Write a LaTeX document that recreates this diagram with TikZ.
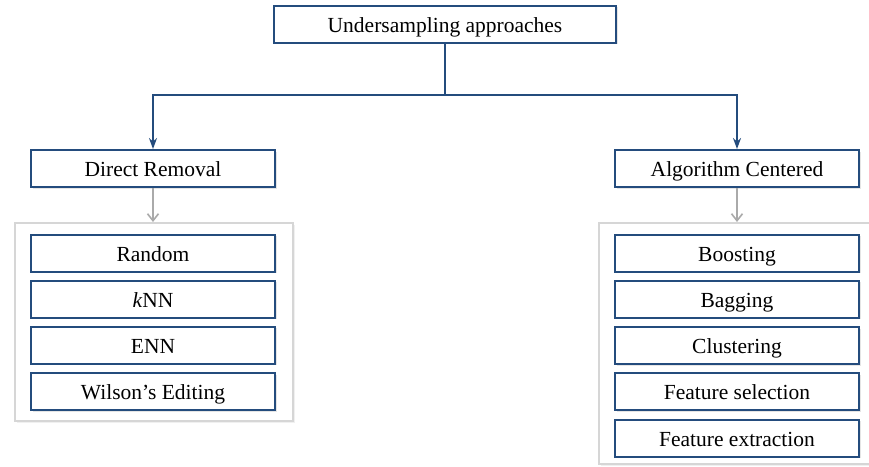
\documentclass[tikz,border=0pt]{standalone}
\usepackage{fontspec}
\setmainfont{Liberation Serif}
\usetikzlibrary{arrows.meta,shadows}
\definecolor{boxblue}{RGB}{36,76,125}
\definecolor{arrgray}{RGB}{170,170,170}
\definecolor{contgray}{RGB}{214,214,214}
\tikzset{
  itembox/.style={draw=boxblue, line width=2pt, fill=white, minimum width=244pt, minimum height=37pt,
    inner sep=0pt, text height=20pt, text depth=4pt, font=\fontsize{21.5}{24}\selectfont,
    drop shadow={shadow xshift=1.5pt, shadow yshift=-1.5pt, opacity=0.25, fill=black!40}},
  contbox/.style={draw=contgray, line width=2.2pt, fill=white,
    drop shadow={shadow xshift=1.5pt, shadow yshift=-1.5pt, opacity=0.2, fill=black!30}},
  bluearr/.style={draw=boxblue, line width=1.8pt, -{Stealth[length=11pt,width=8pt]}},
  grayarr/.style={draw=arrgray, line width=1.6pt, -{Straight Barb[length=7pt,width=11pt]}},
  blueline/.style={draw=boxblue, line width=1.8pt}
}
\begin{document}
\begin{tikzpicture}[x=1pt,y=-1pt]
\useasboundingbox (0,0) rectangle (869,466);
% containers
\node[contbox, minimum width=278pt, minimum height=198pt, inner sep=0pt, anchor=north west] (lc) at (14,222) {};
\node[contbox, minimum width=290pt, minimum height=241pt, inner sep=0pt, anchor=north west] (rc) at (598,222) {};
% top
\node[itembox, minimum width=342pt] (top) at (445,24) {Undersampling approaches};
\node[itembox] (dr) at (153,168.5) {Direct Removal};
\node[itembox] (ac) at (737,168.5) {Algorithm Centered};
% left items
\node[itembox] (l1) at (153,253) {Random};
\node[itembox] (l2) at (153,299) {\textit{k}NN};
\node[itembox] (l3) at (153,345) {ENN};
\node[itembox] (l4) at (153,391.5) {Wilson’s Editing};
% right items
\node[itembox] (r1) at (737,253) {Boosting};
\node[itembox] (r2) at (737,299) {Bagging};
\node[itembox] (r3) at (737,345.5) {Clustering};
\node[itembox] (r4) at (737,391.5) {Feature selection};
\node[itembox] (r5) at (737,438) {Feature extraction};
% connectors
\coordinate (j) at (445,95);
\coordinate (jl) at (153,95);
\coordinate (jr) at (737,95);
\draw[blueline] (top.south) -- (j);
\draw[bluearr] (j) -- (jl) -- (dr.north);
\draw[bluearr] (j) -- (jr) -- (ac.north);
\draw[grayarr] (dr.south) -- (dr.south |- lc.north);
\draw[grayarr] (ac.south) -- (ac.south |- rc.north);
\end{tikzpicture}
\end{document}
